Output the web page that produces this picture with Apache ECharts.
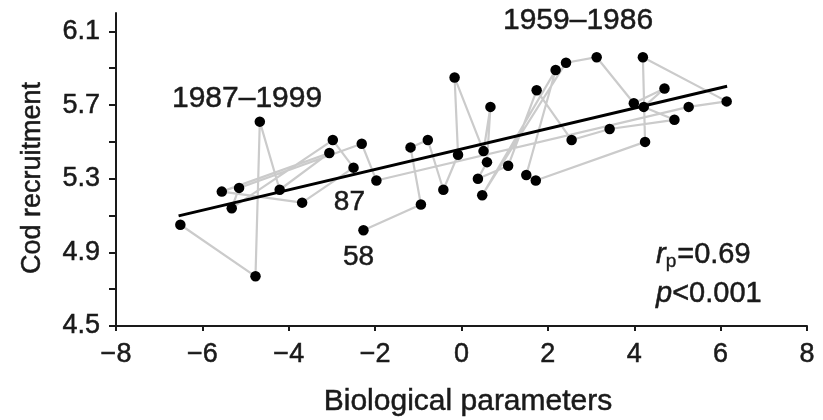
<!DOCTYPE html>
<html>
<head>
<meta charset="utf-8">
<script src="https://cdn.jsdelivr.net/npm/echarts@6/dist/echarts.min.js"></script>
<style>
  html, body { margin: 0; padding: 0; background: #fff; }
  #chart { width: 823px; height: 420px; }
</style>
</head>
<body>
<div id="chart"></div>
<script>
// North Sea cod recruitment against the plankton (biological) index, one point per year
const years = [
  1958, 1959, 1960, 1961, 1962, 1963, 1964, 1965, 1966, 1967,
  1968, 1969, 1970, 1971, 1972, 1973, 1974, 1975, 1976, 1977,
  1978, 1979, 1980, 1981, 1982, 1983, 1984, 1985, 1986, 1987,
  1988, 1989, 1990, 1991, 1992, 1993, 1994, 1995, 1996, 1997,
  1998, 1999
];
const bioParams = [
  -2.27, -0.94, -1.18, -0.78, -0.42, -0.08, -0.16, 0.51, 0.67, 0.59,
   0.38,  1.08,  1.74,  2.55,  3.43,  4.93,  4.22, 4.70, 3.99, 3.13,
   2.42,  0.48,  2.18,  1.50,  1.72,  4.25,  4.20, 6.14, 5.26, -1.97,
  -2.31, -5.15, -5.32, -2.98, -2.50, -3.69, -5.55, -3.06, -4.21, -4.67,
  -4.77, -6.51
];
const codRecruit = [
  5.02, 5.16, 5.47, 5.51, 5.24, 5.43, 5.85, 5.45, 5.69, 5.39,
  5.30, 5.37, 5.78, 5.51, 5.57, 5.62, 5.69, 5.79, 5.71, 5.96,
  5.93, 5.21, 5.89, 5.32, 5.29, 5.50, 5.96, 5.72, 5.69, 5.29,
  5.49, 5.25, 5.14, 5.51, 5.36, 5.17, 5.23, 5.44, 5.24, 5.61,
  4.77, 5.05
];
// fitted regression line, end points
const fitX = [-6.55, 6.15];
const fitY = [5.098, 5.802];

const yTicks = [4.5, 4.7, 4.9, 5.1, 5.3, 5.5, 5.7, 5.9, 6.1];
const yLabels = [4.5, 4.9, 5.3, 5.7, 6.1];

const FONT = '"Liberation Sans", Arial, Helvetica, sans-serif';
const INK = '#1a1a1a';
// a hair of stroke so the lettering carries the same weight as the print
const heavy = { textBorderColor: INK, textBorderWidth: 0.5 };

const points = years.map((yr, i) => {
  const item = { value: [bioParams[i], codRecruit[i]] };
  const lab = { show: true, color: INK, fontSize: 28, fontFamily: FONT, ...heavy };
  if (yr === 1958) {
    item.label = { ...lab, formatter: '58', position: 'bottom', distance: 8, offset: [-5, 0] };
  } else if (yr === 1987) {
    item.label = { ...lab, formatter: '87', position: 'bottom', distance: 2, offset: [-27, 0] };
  }
  return item;
});
const path = years.map((yr, i) => [bioParams[i], codRecruit[i]]);
const fitLine = fitX.map((x, i) => [x, fitY[i]]);

const chart = echarts.init(document.getElementById('chart'), null, { renderer: 'canvas' });
chart.setOption({
  animation: false,
  backgroundColor: '#ffffff',
  textStyle: { fontFamily: FONT },
  grid: { left: 116, right: 16, top: 13, bottom: 94, containLabel: false },
  xAxis: {
    type: 'value',
    min: -8, max: 8, interval: 2,
    axisLine: { lineStyle: { color: INK, width: 2 } },
    axisTick: { show: true, length: 5, lineStyle: { color: INK, width: 2 } },
    axisLabel: {
      fontSize: 27, color: INK, fontFamily: FONT, margin: 15, ...heavy,
      formatter: v => (v < 0 ? '\u2212' + Math.abs(v) : String(v))
    },
    splitLine: { show: false }
  },
  yAxis: {
    type: 'value',
    min: 4.5, max: 6.2,
    axisLine: { onZero: false, lineStyle: { color: INK, width: 2 } },
    axisTick: { show: true, length: 7, customValues: yTicks, lineStyle: { color: INK, width: 2 } },
    axisLabel: {
      fontSize: 27, color: INK, fontFamily: FONT, margin: 16, ...heavy,
      customValues: yLabels,
      formatter: v => v.toFixed(1)
    },
    splitLine: { show: false }
  },
  series: [
    {
      name: 'path', type: 'line', data: path,
      showSymbol: false, symbol: 'none', z: 1,
      lineStyle: { color: '#cbcbcb', width: 2.2 },
      silent: true
    },
    {
      name: 'fit', type: 'line', data: fitLine,
      showSymbol: false, symbol: 'none', z: 2,
      lineStyle: { color: '#000', width: 3 },
      silent: true
    },
    {
      name: 'years', type: 'scatter', data: points,
      symbol: 'circle', symbolSize: 10.5, z: 3,
      itemStyle: { color: '#000', opacity: 1 },
      label: { show: false }
    }
  ],
  graphic: [
    {
      type: 'text', x: 468, y: 402,
      style: { text: 'Biological parameters', fontSize: 30, fill: INK, stroke: INK, lineWidth: 0.5, fontFamily: FONT, align: 'center', verticalAlign: 'middle' }
    },
    {
      type: 'text', x: 33, y: 178, rotation: Math.PI / 2,
      style: { text: 'Cod recruitment', fontSize: 27, fill: INK, stroke: INK, lineWidth: 0.5, fontFamily: FONT, align: 'center', verticalAlign: 'middle' }
    },
    {
      type: 'text', x: 172, y: 99,
      style: { text: '1987\u20131999', fontSize: 30, fill: INK, stroke: INK, lineWidth: 0.5, fontFamily: FONT, align: 'left', verticalAlign: 'middle' }
    },
    {
      type: 'text', x: 503, y: 21,
      style: { text: '1959\u20131986', fontSize: 30, fill: INK, stroke: INK, lineWidth: 0.5, fontFamily: FONT, align: 'left', verticalAlign: 'middle' }
    },
    {
      type: 'text', x: 656, y: 255,
      style: {
        text: '{i|r}{s|p}{n|=0.69}', verticalAlign: 'middle',
        rich: {
          i: { fontSize: 29, fontStyle: 'italic', fill: INK, stroke: INK, lineWidth: 0.5, fontFamily: FONT },
          s: { fontSize: 19, fill: INK, stroke: INK, lineWidth: 0.4, fontFamily: FONT, padding: [14, 1, 0, 0] },
          n: { fontSize: 29, fill: INK, stroke: INK, lineWidth: 0.5, fontFamily: FONT }
        }
      }
    },
    {
      type: 'text', x: 656, y: 294,
      style: {
        text: '{i|p}{n|<0.001}', verticalAlign: 'middle',
        rich: {
          i: { fontSize: 29, fontStyle: 'italic', fill: INK, stroke: INK, lineWidth: 0.5, fontFamily: FONT },
          n: { fontSize: 29, fill: INK, stroke: INK, lineWidth: 0.5, fontFamily: FONT }
        }
      }
    }
  ]
});
</script>
</body>
</html>
